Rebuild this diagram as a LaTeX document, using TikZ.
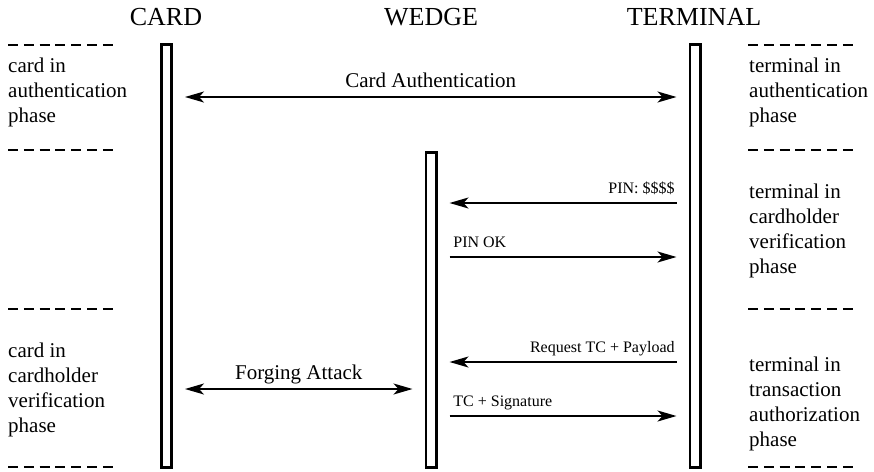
\documentclass[tikz,border=0pt]{standalone}
\usepackage{fontspec}
\setmainfont{Liberation Serif}
\usetikzlibrary{arrows.meta}
\tikzset{
	lifeline/.style={rectangle, draw, line width=2.6pt, inner sep=0pt, minimum width=10.4pt, anchor=north},
	actor/.style={anchor=base, inner sep=0pt, font=\fontsize{26}{30}\selectfont},
	phase/.style={anchor=north west, align=left, inner sep=0pt, font=\fontsize{21}{25}\selectfont},
	sep/.style={line width=1.3pt, dash pattern=on 10pt off 5.8pt},
	msg/.style={line width=1.8pt, -{Stealth[length=19pt, width=11pt, inset=5pt]}, shorten >=12pt, shorten <=12pt},
	dblmsg/.style={msg, {Stealth[length=19pt, width=11pt, inset=5pt]}-{Stealth[length=19pt, width=11pt, inset=5pt]}},
	biglabel/.style={anchor=base, inner sep=0pt, yshift=10pt, font=\fontsize{21}{25}\selectfont},
	smalllabel/.style={inner sep=0pt, yshift=10pt, font=\fontsize{16}{19}\selectfont}
}
\begin{document}
\begin{tikzpicture}[x=1pt, y=-1pt]
	\useasboundingbox (0,0) rectangle (874,471);
	% actors
	\node[actor] (cardtitle) at (166,25) {CARD};
	\node[actor] (wedgetitle) at (431,25) {WEDGE};
	\node[actor] (termtitle) at (694,25) {TERMINAL};
	% lifelines
	\node[lifeline, minimum height=423.4pt] (card) at (166.5,43) {};
	\node[lifeline, minimum height=315.4pt] (wedge) at (431,151) {};
	\node[lifeline, minimum height=423.4pt] (term) at (695,43) {};
	% phase separators
	\foreach \y in {45,150,309,467} {
		\draw[sep] (8,\y) -- (113,\y);
		\draw[sep] (748,\y) -- (853,\y);
	}
	% phase texts
	\node[phase] (cardauth) at (8,58) {card in\\authentication\\phase};
	\node[phase] (cardcv) at (8,343) {card in\\cardholder\\verification\\phase};
	\node[phase] (termauth) at (749,58) {terminal in\\authentication\\phase};
	\node[phase] (termcv) at (749,184) {terminal in\\cardholder\\verification\\phase};
	\node[phase] (termta) at (749,357) {terminal in\\transaction\\authorization\\phase};
	% message rows
	\coordinate (rowauth) at (0,97);
	\coordinate (rowpin) at (0,203);
	\coordinate (rowpinok) at (0,257);
	\coordinate (rowreq) at (0,362);
	\coordinate (rowforge) at (0,389);
	\coordinate (rowsig) at (0,416);
	% messages
	\draw[dblmsg] (card.east |- rowauth) -- node[biglabel, midway] {Card Authentication} (term.west |- rowauth);
	\draw[msg] (term.west |- rowpin) -- (wedge.east |- rowpin)
		node[smalllabel, anchor=base east, xshift=-13pt, at start] {PIN: \$\$\$\$};
	\draw[msg] (wedge.east |- rowpinok) -- (term.west |- rowpinok)
		node[smalllabel, anchor=base west, xshift=15pt, at start] {PIN OK};
	\draw[msg] (term.west |- rowreq) -- (wedge.east |- rowreq)
		node[smalllabel, anchor=base east, xshift=-13pt, at start] {Request TC + Payload};
	\draw[dblmsg] (card.east |- rowforge) -- node[biglabel, midway] {Forging Attack} (wedge.west |- rowforge);
	\draw[msg] (wedge.east |- rowsig) -- (term.west |- rowsig)
		node[smalllabel, anchor=base west, xshift=15pt, at start] {TC + Signature};
\end{tikzpicture}
\end{document}
